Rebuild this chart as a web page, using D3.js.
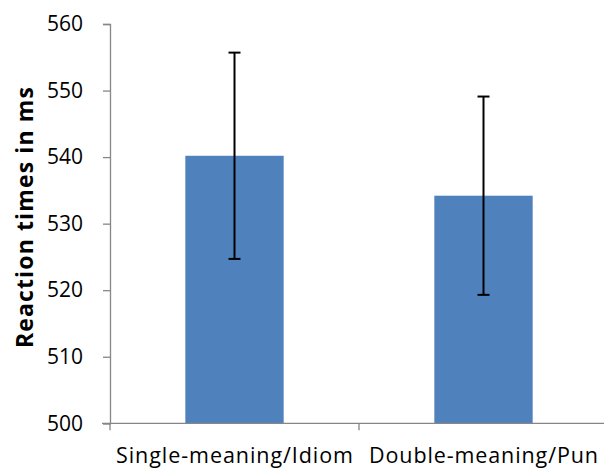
<!DOCTYPE html>
<html>
<head>
<meta charset="utf-8">
<script src="https://cdn.jsdelivr.net/npm/d3@7"></script>
<style>
  html, body { margin: 0; padding: 0; background: #fff; }
  svg { display: block; }
  text { font-family: "Open Sans", "Noto Sans", sans-serif; fill: #000; }
</style>
</head>
<body>
<div id="chart"></div>
<script>
const categories = ["Single-meaning/Idiom", "Double-meaning/Pun"];
const means = [540.2, 534.2];
const errors = [15.5, 14.9];
const yTicks = [500, 510, 520, 530, 540, 550, 560];
const yTitle = "Reaction times in ms";

const W = 604, H = 472;
const svg = d3.select("#chart").append("svg").attr("width", W).attr("height", H);

const x = d3.scaleBand().domain(categories).range([110, 608]).padding(0);
const y = d3.scaleLinear().domain([500, 560]).range([423.3, 24]);
const barW = x.bandwidth() * 0.395;
const axisColor = "#868686";
const labelWidths = [237, 229];

// bars
svg.selectAll("rect.bar").data(categories).enter().append("rect")
  .attr("class", "bar")
  .attr("x", d => x(d) + x.bandwidth() / 2 - barW / 2)
  .attr("width", barW)
  .attr("y", (d, i) => y(means[i]))
  .attr("height", (d, i) => y(500) - y(means[i]))
  .attr("fill", "#4F81BD");

// y axis
const yAxis = svg.append("g").attr("transform", "translate(110,0)")
  .call(d3.axisLeft(y).tickValues(yTicks).tickSize(7).tickPadding(20).tickFormat(d3.format("d")));
yAxis.select(".domain").attr("stroke", axisColor).attr("stroke-width", 1.3);
yAxis.selectAll(".tick line").attr("stroke", axisColor).attr("stroke-width", 1.3);
yAxis.selectAll(".tick text").attr("font-size", 21).attr("font-family", "'Open Sans', sans-serif").attr("fill", "#000");

// x axis
const xAxis = svg.append("g").attr("transform", `translate(0,${y(500)})`)
  .call(d3.axisBottom(x).tickSize(0).tickPadding(24));
xAxis.select(".domain").attr("stroke", axisColor).attr("stroke-width", 1.3)
  .attr("d", `M102,0H608`);
xAxis.selectAll(".tick text").attr("font-size", 21.5).attr("font-family", "'Open Sans', sans-serif").attr("fill", "#000").attr("dy", "0.71em")
  .attr("textLength", (d, i) => labelWidths[i]).attr("lengthAdjust", "spacing");
// category separator ticks
const sepPos = [110, 110 + x.bandwidth(), 608];
svg.append("g").selectAll("line").data(sepPos).enter().append("line")
  .attr("x1", d => d).attr("x2", d => d)
  .attr("y1", y(500)).attr("y2", y(500) + 7)
  .attr("stroke", axisColor).attr("stroke-width", 1.3);

// error bars
const eb = svg.append("g");
categories.forEach((c, i) => {
  const cx = x(c) + x.bandwidth() / 2;
  const top = y(means[i] + errors[i]), bot = y(means[i] - errors[i]);
  eb.append("line").attr("x1", cx).attr("x2", cx).attr("y1", top).attr("y2", bot)
    .attr("stroke", "#000").attr("stroke-width", 2);
  [top, bot].forEach(v => {
    eb.append("line").attr("x1", cx - 6).attr("x2", cx + 6).attr("y1", v).attr("y2", v)
      .attr("stroke", "#000").attr("stroke-width", 2);
  });
});

// y title
svg.append("text")
  .attr("transform", `translate(33,${(87 + 348) / 2}) rotate(-90)`)
  .attr("text-anchor", "middle")
  .attr("font-size", 23)
  .attr("font-weight", "bold")
  .attr("textLength", 261).attr("lengthAdjust", "spacing")
  .text(yTitle);
</script>
</body>
</html>
